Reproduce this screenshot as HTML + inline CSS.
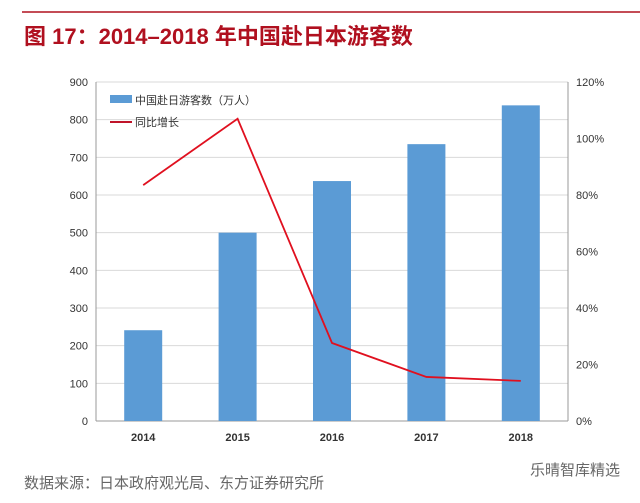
<!DOCTYPE html>
<html><head><meta charset="utf-8"><style>
body{margin:0;width:640px;height:498px;background:#fff;overflow:hidden;font-family:"Liberation Sans","Noto Sans CJK SC",sans-serif}
</style></head><body>
<svg width="640" height="498" xmlns="http://www.w3.org/2000/svg">
<line x1="22" y1="12" x2="640" y2="12" stroke="#b0101f" stroke-width="1.5"/>
<text x="24" y="44" font-size="22" font-weight="bold" fill="#b0101f" font-family="Liberation Sans,Noto Sans CJK SC,sans-serif">图 17：2014–2018 年中国赴日本游客数</text>
<g id="grid"></g><g id="bars"></g><g id="line"></g><g id="axes"></g>
<rect x="110" y="95" width="22" height="8" fill="#5b9bd5"/>
<text x="135" y="104" font-size="11" fill="#333">中国赴日游客数（万人）</text>
<line x1="110" y1="122" x2="132" y2="122" stroke="#c0142a" stroke-width="2"/>
<text x="135" y="126" font-size="11" fill="#333">同比增长</text>
<text x="24" y="488" font-size="15" fill="#666">数据来源：日本政府观光局、东方证券研究所</text>
<text x="530" y="475" font-size="15" fill="#666">乐晴智库精选</text>
</svg>
<script>
const categories=["2014","2015","2016","2017","2018"];
const visitors=[241,500,637,735,838];
const growth=[83.5,107,27.6,15.6,14.2];
const leftTicks=[0,100,200,300,400,500,600,700,800,900];
const rightTicks=[0,20,40,60,80,100,120];
const L=96,R=568,T=82,B=421,NS="http://www.w3.org/2000/svg";
const yL=v=>B-(v/900)*(B-T), yR=v=>B-(v/120)*(B-T);
const bw=(R-L)/categories.length, xc=i=>L+bw*(i+0.5);
function mk(p,tag,a){const e=document.createElementNS(NS,tag);for(const k in a)e.setAttribute(k,a[k]);document.getElementById(p).appendChild(e);return e;}
leftTicks.forEach(v=>{
 const g=mk('grid','line',{x1:L,x2:R,y1:yL(v),y2:yL(v),stroke:v?'#d9d9d9':'#999','stroke-width':1});
 
 
 const t=mk('axes','text',{x:L-8,y:yL(v)+4,'font-size':11,fill:'#333','text-anchor':'end'});t.textContent=v;
 
 
});
rightTicks.forEach(v=>{
 const t=mk('axes','text',{x:R+8,y:yR(v)+4,'font-size':11,fill:'#333'});t.textContent=v+'%';
 
 
});
mk('axes','line',{x1:L,x2:L,y1:T,y2:B,stroke:'#999'});
mk('axes','line',{x1:R,x2:R,y1:T,y2:B,stroke:'#999'});
categories.forEach((c,i)=>{
 const r=mk('bars','rect',{x:xc(i)-19,y:yL(visitors[i]),width:38,height:B-yL(visitors[i]),fill:'#5b9bd5'});
 
 
 const t=mk('axes','text',{x:xc(i),y:B+20,'font-size':11,fill:'#333','text-anchor':'middle','font-weight':'bold'});t.textContent=c;
 
 
});
const pl=mk('line','polyline',{points:growth.map((v,i)=>xc(i)+','+yR(v)).join(' '),fill:'none',stroke:'#e0101f','stroke-width':1.8});


</script>
</body></html>
